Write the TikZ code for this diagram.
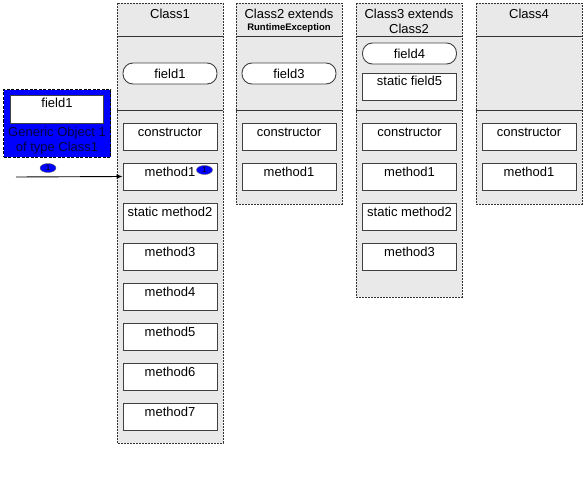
\documentclass[tikz,border=0pt]{standalone}
\usepackage{fontspec}
\setmainfont{Liberation Sans}
\usetikzlibrary{shapes.geometric,arrows.meta}
\begin{document}
\begin{tikzpicture}[x=1pt,y=-1pt,
  classbox/.style={draw=black!80, dash pattern=on 2pt off 1pt, fill=gray!17, line width=0.7pt},
  sepline/.style={draw=black!80, line width=0.9pt},
  member/.style={rectangle, draw=black!75, fill=white, line width=0.9pt, minimum width=94pt, minimum height=27pt, inner sep=0pt, text height=9pt, text depth=10pt, font=\fontsize{13}{15}\selectfont},
  fieldbox/.style={rectangle, rounded corners=10pt, draw=black!75, fill=white, line width=0.9pt, minimum width=94pt, minimum height=21pt, inner sep=0pt, font=\fontsize{13}{15}\selectfont},
  head/.style={anchor=base, inner sep=0pt, font=\fontsize{13}{15}\selectfont},
  subhead/.style={anchor=base, inner sep=0pt, font=\fontsize{9.5}{11}\selectfont\bfseries},
  tag/.style={ellipse, draw=black!60, fill=blue, minimum width=16pt, minimum height=9pt, inner sep=0pt, font=\fontsize{8}{8}\selectfont},
]
\useasboundingbox (0,0) rectangle (586,500);
\fill[white] (0,0) rectangle (586,500);

% Class boxes
\path[classbox] (117,3) rectangle (223,443);
\path[classbox] (236,3) rectangle (342,204);
\path[classbox] (356,3) rectangle (462,297);
\path[classbox] (476,3) rectangle (582,204);
\foreach \a/\b in {117/223,236/342,356/462,476/582}{
  \draw[sepline] (\a,36) -- (\b,36);
  \draw[sepline] (\a,110) -- (\b,110);
}

% Headers
\node[head] (h1) at (170,19) {Class1};
\node[head] (h2) at (289,19) {Class2 extends};
\node[subhead] (h2b) at (289,31) {RuntimeException};
\node[head] (h3) at (409,19) {Class3 extends};
\node[head] (h3b) at (409,34) {Class2};
\node[head] (h4) at (529,19) {Class4};

% Fields
\node[fieldbox] (c1f1) at (170,73.5) {field1};
\node[fieldbox] (c2f3) at (289,73.5) {field3};
\node[fieldbox] (c3f4) at (409.5,53.5) {field4};
\node[member] (c3f5) at (409.5,86.5) {static field5};

% Class1 methods
\node[member] (c1con) at (170,136.5) {constructor};
\node[member] (c1m1) at (170,176.5) {method1};
\node[member] (c1m2) at (170,216.5) {static method2};
\node[member] (c1m3) at (170,256.5) {method3};
\node[member] (c1m4) at (170,296.5) {method4};
\node[member] (c1m5) at (170,336.5) {method5};
\node[member] (c1m6) at (170,376.5) {method6};
\node[member] (c1m7) at (170,416.5) {method7};

% Class2 methods
\node[member] (c2con) at (289,136.5) {constructor};
\node[member] (c2m1) at (289,176.5) {method1};

% Class3 methods
\node[member] (c3con) at (409.5,136.5) {constructor};
\node[member] (c3m1) at (409.5,176.5) {method1};
\node[member] (c3m2) at (409.5,216.5) {static method2};
\node[member] (c3m3) at (409.5,256.5) {method3};

% Class4 methods
\node[member] (c4con) at (529,136.5) {constructor};
\node[member] (c4m1) at (529,176.5) {method1};

% Object
\node[rectangle, draw=black, dash pattern=on 3pt off 1.5pt, fill=blue, line width=1pt, minimum width=107pt, minimum height=67pt, inner sep=0pt] (obj) at (57,123.5) {};
\node[member, minimum width=93pt, minimum height=28pt, text height=9pt, text depth=12pt] (objf) at (57,109) {field1};
\node[inner sep=0pt, align=center, text=blue!25!black, font=\fontsize{13}{15}\selectfont] (objt) at (57,141) {Generic Object 1\\of type Class1};

% Reference tags and arrow
\node[tag] (t1) at (48,168) {1};
\node[tag] (t2) at (204.5,170) {1};
\coordinate (ref) at (16,177);
\draw[-{Latex[length=6pt,width=5pt]}, line width=0.9pt] (ref) -- (c1m1.west);
\end{tikzpicture}
\end{document}
